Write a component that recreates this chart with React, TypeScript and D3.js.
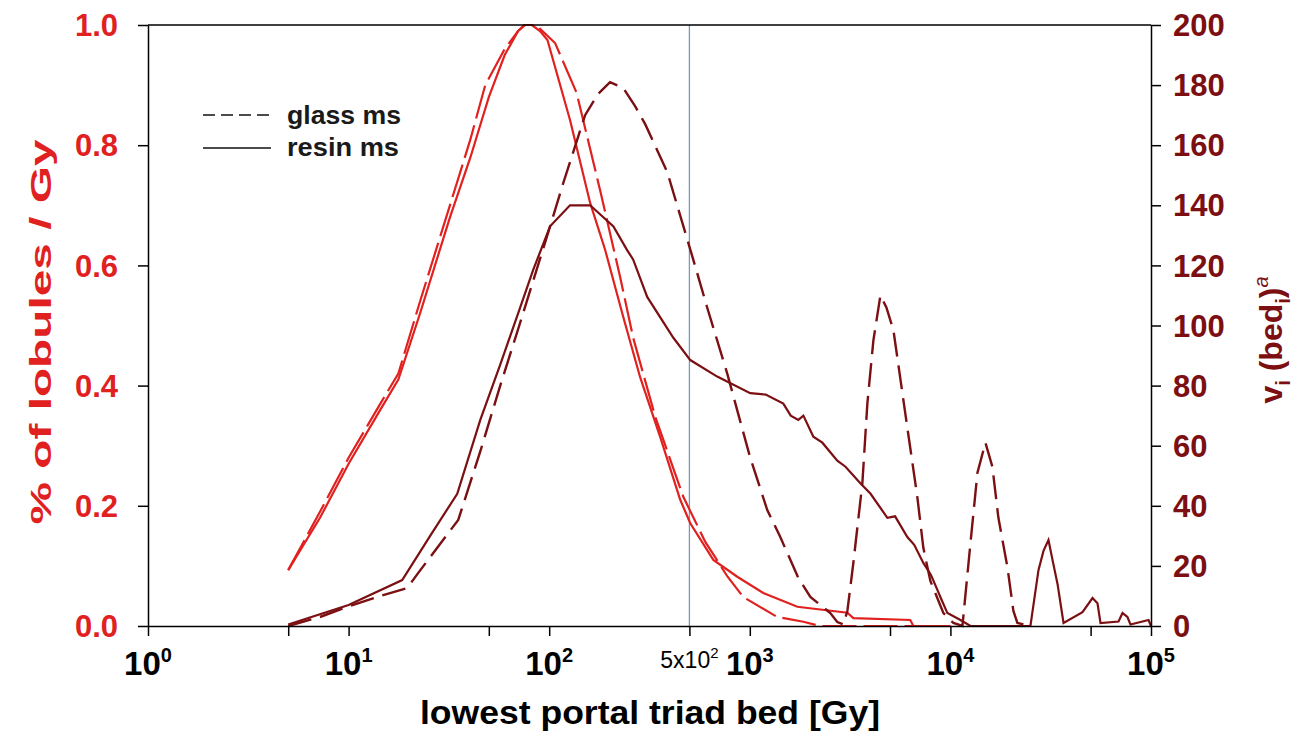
import { useEffect, useRef } from 'react'
import * as d3 from 'd3'

// [Gy, % of lobules / Gy] on the left axis
const redResin: [number, number][] = [
  [5, 0.093], [7.2, 0.18], [10, 0.27], [14.4, 0.36], [17.7, 0.41], [22.7, 0.52],
  [32, 0.68], [40.5, 0.78], [50, 0.88], [60, 0.95], [70, 0.99], [76, 1.0], [82, 1.0],
  [90, 0.99], [98, 0.975], [127, 0.842], [160, 0.704], [190, 0.626], [234, 0.514],
  [284, 0.414], [358, 0.314], [450, 0.21], [505, 0.171], [658, 0.11], [866, 0.082],
  [1167, 0.055], [1726, 0.032], [3065, 0.022], [3282, 0.013], [6310, 0.01], [6536, 0], [10000, 0],
]

const redGlass: [number, number][] = [
  [5, 0.093], [7.2, 0.19], [10, 0.28], [14.4, 0.37], [17.7, 0.42], [22.7, 0.54],
  [32, 0.7], [40.5, 0.81], [48, 0.9], [60, 0.96], [70, 0.99], [75, 1.0], [86, 1.0],
  [107, 0.97], [137, 0.887], [180, 0.723], [226, 0.58], [262, 0.48], [338, 0.348],
  [466, 0.215], [600, 0.14], [775, 0.082], [930, 0.048], [1370, 0.015], [1850, 0.007], [2250, 0], [10000, 0],
]

// [Gy, v_i(bed_i)^a] on the right axis
const darkGlass: [number, number][] = [
  [5, 0], [7.2, 3], [10, 6.5], [14.4, 10], [19.6, 12.6], [22.2, 17.6], [35.2, 35.3],
  [45.3, 58], [57, 80], [71.7, 101], [98.9, 131], [117, 147], [151, 170], [175, 177],
  [201, 181], [234, 179], [268, 173], [301, 167], [388, 151], [517, 123], [613, 106],
  [772, 84], [897, 68], [1005, 56], [1222, 38.6], [1419, 29.6], [1745, 16], [2004, 9.7],
  [2520, 4.3], [2730, 1.3], [2925, 0.5], [3065, 5], [3283, 21], [3640, 47.5], [3855, 74],
  [4130, 95], [4478, 110], [4797, 106], [5198, 98.5], [6100, 66], [6840, 43], [7330, 26],
  [7945, 15], [9230, 4.3], [10350, 1], [11480, 0], [12590, 27.6], [13640, 51], [14950, 61],
  [16190, 53], [17350, 36], [19240, 19.6], [20610, 5], [21580, 1], [25000, 0],
]

const darkResin: [number, number][] = [
  [5, 0.5], [10, 7], [18.5, 15.3], [25.5, 30], [34.8, 44], [45.3, 68.5], [57, 87],
  [71.7, 106], [83.2, 118.5], [101, 133], [127, 140], [160, 140], [209, 133], [245, 125],
  [262, 122], [308, 109.5], [415, 96], [505, 88.5], [688, 83], [1005, 77.5], [1200, 77],
  [1469, 74], [1600, 70], [1745, 68.6], [1850, 70], [2074, 63], [2300, 61], [2730, 55],
  [3000, 53], [3557, 47.5], [4000, 44], [4850, 36], [5300, 36.5], [6100, 29.6], [6600, 27],
  [7330, 21], [8000, 17], [8610, 12], [9000, 9], [9660, 4.3], [11220, 2], [12590, 0],
  [25060, 0], [27480, 18.6], [29110, 25], [30830, 28.6], [32280, 22], [34200, 14], [36640, 1],
  [45550, 4.6], [51100, 9.3], [54100, 7.6], [56000, 1], [68900, 1.5], [72100, 4.3],
  [76300, 3], [79000, 0.5], [97200, 2], [100000, 0],
]

const xTickValues = [1, 5, 10, 50, 100, 500, 1000, 5000, 10000, 50000, 100000]
const xLabelExponents = [0, 1, 2, 3, 4, 5]
const leftTicks = [0, 0.2, 0.4, 0.6, 0.8, 1.0]
const rightTicks = [0, 20, 40, 60, 80, 100, 120, 140, 160, 180, 200]
const markerGy = 500

const RED = '#e0211f'
const DARK = '#7b0f12'
const FONT = '"Liberation Sans", Arial, sans-serif'

function App() {
  const ref = useRef<SVGSVGElement>(null)

  useEffect(() => {
    const margin = { top: 25, right: 145, bottom: 107, left: 148 }
    const width = 1296 - margin.left - margin.right
    const height = 733 - margin.top - margin.bottom

    const svg = d3.select(ref.current)
    svg.selectAll('*').remove()

    const xScale = d3.scaleLog().domain([1, 100000]).range([0, width])
    const yLeft = d3.scaleLinear().domain([0, 1]).range([height, 0])
    const yRight = d3.scaleLinear().domain([0, 200]).range([height, 0])

    const g = svg.append('g').attr('transform', `translate(${margin.left}, ${margin.top})`)

    const leftLine = d3.line<[number, number]>().x(d => xScale(d[0])).y(d => yLeft(d[1]))
    const rightLine = d3.line<[number, number]>().x(d => xScale(d[0])).y(d => yRight(d[1]))

    // 5x10^2 marker
    g.append('line')
      .attr('x1', xScale(markerGy)).attr('x2', xScale(markerGy))
      .attr('y1', 0).attr('y2', height)
      .style('stroke', '#7d98b3')
      .style('stroke-width', 1.3)

    g.append('path').datum(redGlass).attr('d', leftLine)
      .style('fill', 'none').style('stroke', RED).style('stroke-width', 2.2)
      .style('stroke-dasharray', '34,7')
    g.append('path').datum(redResin).attr('d', leftLine)
      .style('fill', 'none').style('stroke', RED).style('stroke-width', 2.2)
    g.append('path').datum(darkGlass).attr('d', rightLine)
      .style('fill', 'none').style('stroke', DARK).style('stroke-width', 2.4)
      .style('stroke-dasharray', '24,9')
    g.append('path').datum(darkResin).attr('d', rightLine)
      .style('fill', 'none').style('stroke', DARK).style('stroke-width', 2.2)

    // frame
    g.append('line').attr('x1', 0).attr('x2', width).attr('y1', 0).attr('y2', 0)
      .style('stroke', '#000').style('stroke-width', 1.5)

    const xAxis = g.append('g')
      .attr('transform', `translate(0, ${height})`)
      .call(d3.axisBottom(xScale).tickValues(xTickValues).tickFormat(() => '').tickSize(10).tickSizeOuter(0))
    const lAxis = g.append('g')
      .call(d3.axisLeft(yLeft).tickValues(leftTicks).tickFormat(() => '').tickSize(10).tickSizeOuter(0))
    const rAxis = g.append('g')
      .attr('transform', `translate(${width}, 0)`)
      .call(d3.axisRight(yRight).tickValues(rightTicks).tickFormat(() => '').tickSize(10).tickSizeOuter(0))
    for (const a of [xAxis, lAxis, rAxis]) {
      a.selectAll('path, line').style('stroke', '#000').style('stroke-width', 1.5)
    }

    // tick labels
    for (const e of xLabelExponents) {
      const t = g.append('text')
        .attr('x', xScale(Math.pow(10, e)))
        .attr('y', height + 49)
        .attr('text-anchor', 'middle')
        .style('font-family', FONT).style('font-weight', 'bold').style('font-size', '33px')
      t.append('tspan').text('10')
      t.append('tspan').attr('dy', -13).style('font-size', '20px').text(String(e))
    }
    const m = g.append('text')
      .attr('x', xScale(markerGy))
      .attr('y', height + 42)
      .attr('text-anchor', 'middle')
      .style('font-family', FONT).style('font-size', '23px')
    m.append('tspan').text('5x10')
    m.append('tspan').attr('dy', -10).style('font-size', '15px').text('2')

    g.selectAll('.ltick').data(leftTicks).enter().append('text')
      .attr('x', -30).attr('y', d => yLeft(d)).attr('dy', '0.36em')
      .attr('text-anchor', 'end')
      .style('font-family', FONT).style('font-weight', 'bold').style('font-size', '31px')
      .style('fill', RED)
      .text(d => d.toFixed(1))

    g.selectAll('.rtick').data(rightTicks).enter().append('text')
      .attr('x', width + 22).attr('y', d => yRight(d)).attr('dy', '0.36em')
      .style('font-family', FONT).style('font-weight', 'bold').style('font-size', '31px')
      .style('fill', DARK)
      .text(d => String(d))

    // axis titles
    svg.append('text')
      .attr('transform', `translate(51, 332) rotate(-90)`)
      .attr('text-anchor', 'middle')
      .attr('textLength', 385).attr('lengthAdjust', 'spacingAndGlyphs')
      .style('font-family', FONT).style('font-weight', 'bold').style('font-size', '30px')
      .style('fill', RED)
      .text('% of lobules / Gy')

    const rt = svg.append('text')
      .attr('transform', `translate(1282, 340) rotate(-90)`)
      .attr('text-anchor', 'middle')
      .style('font-family', FONT).style('font-weight', 'bold').style('font-size', '32px')
      .style('fill', DARK)
    rt.append('tspan').text('v')
    rt.append('tspan').attr('dy', 8).style('font-size', '20px').text('i')
    rt.append('tspan').attr('dy', -8).text(' (bed')
    rt.append('tspan').attr('dy', 8).style('font-size', '20px').text('i')
    rt.append('tspan').attr('dy', -8).text(')')
    rt.append('tspan').attr('dy', -14).style('font-size', '20px').style('font-style', 'italic').style('font-weight', 'normal').text('a')

    svg.append('text')
      .attr('x', 650).attr('y', 724)
      .attr('text-anchor', 'middle')
      .attr('textLength', 460).attr('lengthAdjust', 'spacingAndGlyphs')
      .style('font-family', FONT).style('font-weight', 'bold').style('font-size', '34px')
      .text('lowest portal triad bed [Gy]')

    // legend
    const legend = svg.append('g').attr('transform', 'translate(203, 0)')
    legend.append('line').attr('x1', 0).attr('x2', 68).attr('y1', 115).attr('y2', 115)
      .style('stroke', '#111').style('stroke-width', 1.6).style('stroke-dasharray', '12,6')
    legend.append('line').attr('x1', 0).attr('x2', 68).attr('y1', 148).attr('y2', 148)
      .style('stroke', '#111').style('stroke-width', 1.6)
    legend.append('text').attr('x', 84).attr('y', 124)
      .attr('textLength', 114).attr('lengthAdjust', 'spacingAndGlyphs')
      .style('font-family', FONT).style('font-weight', 'bold').style('font-size', '25px').style('fill', '#1a1a1a')
      .text('glass ms')
    legend.append('text').attr('x', 84).attr('y', 156)
      .attr('textLength', 112).attr('lengthAdjust', 'spacingAndGlyphs')
      .style('font-family', FONT).style('font-weight', 'bold').style('font-size', '25px').style('fill', '#1a1a1a')
      .text('resin ms')
  }, [])

  return (
    <svg
      ref={ref}
      width={1296}
      height={733}
      style={{ position: 'absolute', left: 0, top: 0, background: '#fff' }}
    />
  )
}

export default App
